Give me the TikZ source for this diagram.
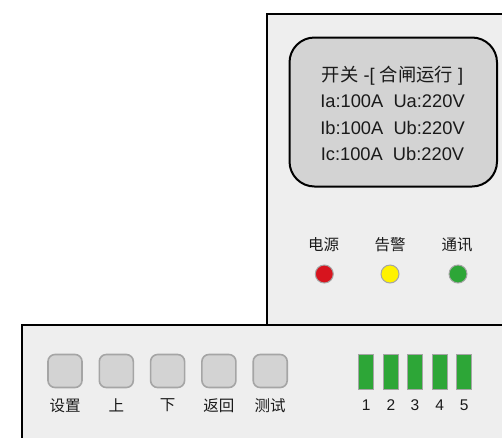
\documentclass[tikz,border=0pt]{standalone}
\usepackage{fontspec}
\setmainfont{Liberation Sans}
\newfontfamily\cjk{Noto Sans CJK SC}
\definecolor{panel}{HTML}{EEEEEE}
\definecolor{btn}{HTML}{D3D3D3}
\definecolor{btnedge}{HTML}{A5A5A5}
\definecolor{ledred}{HTML}{D7141E}
\definecolor{ledyellow}{HTML}{FFF200}
\definecolor{ledgreen}{HTML}{2DA637}
\definecolor{txt}{HTML}{1A1A1A}
\tikzset{
  panelbox/.style={fill=panel, draw=black, line width=2pt},
  display/.style={fill=btn, draw=black, line width=2pt, rounded corners=25pt},
  led/.style={circle, minimum size=18pt, inner sep=0pt, draw=btnedge, line width=1pt},
  keybtn/.style={rectangle, rounded corners=7pt, minimum width=34pt, minimum height=33pt, inner sep=0pt, fill=btn, draw=btnedge, line width=1.6pt},
  bar/.style={rectangle, minimum width=15pt, minimum height=35pt, inner sep=0pt, fill=ledgreen, draw=btnedge, line width=1pt},
  lbl/.style={font=\fontsize{15.5}{17}\selectfont\cjk, text=txt, inner sep=0pt},
  numlbl/.style={font=\fontsize{15.5}{17}\selectfont, text=txt, inner sep=0pt},
  disptxt/.style={font=\fontsize{18.3}{26.5}\selectfont, text=txt, align=center, inner sep=0pt},
}
\begin{document}
\begin{tikzpicture}[x=1pt,y=-1pt]
\useasboundingbox (0,0) rectangle (502,437);
\clip (0,0) rectangle (502,437);
\fill[white] (0,0) rectangle (502,437);
% upper panel
\path[panelbox] (266.5,325) -- (266.5,13.5) -- (520,13.5) -- (520,325) -- cycle;
% display
\path[display] (289.5,37.5) rectangle (497,186.5);
\node[disptxt] (disp) at (392.5,113.5) {{\cjk 开关} -[ {\cjk 合闸运行} ]\\Ia:100A\ \ Ua:220V\\Ib:100A\ \ Ub:220V\\Ic:100A\ \ Ub:220V};
% LEDs
\node[lbl] (l1) at (323.5,245) {电源};
\node[lbl] (l2) at (390,245) {告警};
\node[lbl] (l3) at (457,245) {通讯};
\node[led, fill=ledred] (d1) at (324.3,274) {};
\node[led, fill=ledyellow] (d2) at (390,274) {};
\node[led, fill=ledgreen] (d3) at (458,274) {};
% lower panel
\path[panelbox] (21.7,450) -- (21.7,325) -- (520,325) -- (520,450) -- cycle;
% buttons
\foreach \i/\x/\t in {1/65/设置,2/116.3/上,3/167.6/下,4/218.9/返回,5/270.2/测试}{
  \node[keybtn] (k\i) at (\x,371) {};
  \node[lbl] (kl\i) at (\x,405.5) {\t};
}
% bars
\foreach \i/\x in {1/366.3,2/391,3/415,4/439.7,5/464.3}{
  \node[bar] (b\i) at (\x,372) {};
  \node[numlbl] (bn\i) at (\x,405.5) {\i};
}
\end{tikzpicture}
\end{document}
